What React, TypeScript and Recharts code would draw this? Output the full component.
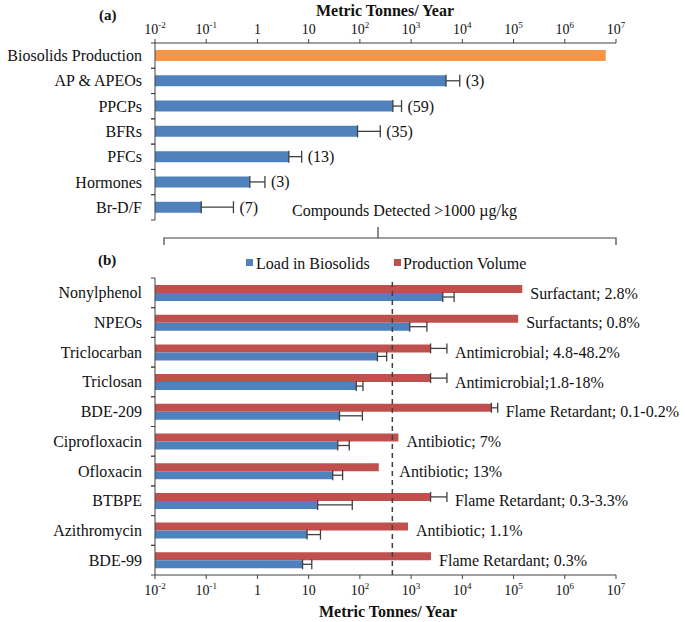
import React from 'react';
import { BarChart, Bar, XAxis, YAxis, ErrorBar, Cell, LabelList, ReferenceLine } from 'recharts';

// panel (a): compound classes
const groupNames = ['Biosolids Production', 'AP & APEOs', 'PPCPs', 'BFRs', 'PFCs', 'Hormones', 'Br-D/F'];
const groupLoads = [6300000, 4800, 440, 90, 4.1, 0.71, 0.08];
const groupUpper = [null, 8900, 650, 250, 7.3, 1.4, 0.34];
const groupCounts = ['', '(3)', '(59)', '(35)', '(13)', '(3)', '(7)'];

// panel (b): compounds detected >1000 ug/kg
const compoundNames = ['Nonylphenol', 'NPEOs', 'Triclocarban', 'Triclosan', 'BDE-209', 'Ciprofloxacin', 'Ofloxacin', 'BTBPE', 'Azithromycin', 'BDE-99'];
const loadValues = [4150, 940, 220, 85, 40, 37, 29.5, 15, 9.3, 7.6];
const loadUpper = [6900, 2030, 333, 115, 112, 62, 46, 71, 17, 11.5];
const productionValues = [148000, 123000, 2400, 2400, 37000, 565, 234, 2400, 870, 2450];
const productionUpper = [null, null, 5000, 5000, 49000, null, null, 5000, null, null];
const compoundUses = [
  'Surfactant; 2.8%',
  'Surfactants;  0.8%',
  'Antimicrobial; 4.8-48.2%',
  'Antimicrobial;1.8-18%',
  'Flame Retardant; 0.1-0.2%',
  'Antibiotic; 7%',
  'Antibiotic; 13%',
  'Flame Retardant; 0.3-3.3%',
  'Antibiotic; 1.1%',
  'Flame Retardant; 0.3%',
];

const logTicks = [0.01, 0.1, 1, 10, 100, 1000, 10000, 100000, 1000000, 10000000];
const detectionLine = 430;

const FONT = 'Liberation Serif, Tinos, DejaVu Serif, serif';
const BLUE = '#4F81BD';
const RED = '#C0504D';
const ORANGE = '#F79646';
const AXIS = '#404040';

const topData = groupNames.map((name, i) => ({
  name,
  value: groupLoads[i],
  err: groupUpper[i] == null ? null : [0, groupUpper[i]! - groupLoads[i]],
}));

const bottomData = compoundNames.map((name, i) => ({
  name,
  load: loadValues[i],
  loadErr: [0, loadUpper[i] - loadValues[i]],
  production: productionValues[i],
  productionErr: productionUpper[i] == null ? null : [0, productionUpper[i]! - productionValues[i]],
}));

const txt = { fontFamily: FONT, fill: '#111' };

function PowerTick(props: any) {
  const { x, y, payload, side } = props;
  const exp = Math.round(Math.log10(payload.value));
  const ty = side === 'top' ? y - 3 : y + 14;
  return (
    <text x={x} y={ty} textAnchor="middle" fontSize={14} style={txt}>
      {exp === 0 ? '1' : exp === 1 ? '10' : (
        <>
          10<tspan dy={-6} fontSize={9}>{exp}</tspan>
        </>
      )}
    </text>
  );
}

function makeCategoryTick(band: number) {
  return (props: any) => {
    const { x, y, payload } = props;
    return (
      <g>
        <line x1={x - 4} x2={x} y1={y - band / 2} y2={y - band / 2} stroke={AXIS} />
        <line x1={x - 4} x2={x} y1={y + band / 2} y2={y + band / 2} stroke={AXIS} />
        <text x={x - 13} y={y} textAnchor="end" dominantBaseline="central" fontSize={16} style={txt}>
          {payload.value}
        </text>
      </g>
    );
  };
}

function box(props: any) {
  const vb = props.viewBox ?? props;
  return { x: Number(vb.x), y: Number(vb.y), width: Number(vb.width), height: Number(vb.height) };
}

function CountLabel(props: any) {
  const i = groupNames.indexOf(props.value);
  if (i < 0 || !groupCounts[i]) return null;
  const { x, y, width, height } = box(props);
  const decade = width / (Math.log10(groupLoads[i]) + 2);
  const up = groupUpper[i];
  const end = up == null ? x + width : x + (Math.log10(up) + 2) * decade;
  return (
    <text x={end + 6} y={y + height / 2} dominantBaseline="central" fontSize={16} style={txt}>
      {groupCounts[i]}
    </text>
  );
}

function UseLabel(props: any) {
  const i = compoundNames.indexOf(props.value);
  if (i < 0) return null;
  const { x, y, width, height } = box(props);
  const decade = width / (Math.log10(productionValues[i]) + 2);
  const up = productionUpper[i];
  const end = up == null ? x + width : x + (Math.log10(up) + 2) * decade;
  const refX = x + (Math.log10(detectionLine) + 2) * decade;
  const tx = Math.max(end + 8, refX + 7);
  return (
    <text x={tx} y={y + height} dominantBaseline="central" fontSize={16} style={txt}>
      {compoundUses[i]}
    </text>
  );
}

export default function App() {
  const topPlotH = 177;
  const bottomPlotH = 297;
  return (
    <div style={{ position: 'absolute', left: 0, top: 0, width: 685, height: 622, background: '#fff', fontFamily: FONT }}>
      <div style={{ position: 'absolute', left: 0, top: 0 }}>
        <BarChart
          width={685}
          height={230}
          data={topData}
          layout="vertical"
          margin={{ top: 13, right: 69, bottom: 10, left: 0 }}
          barSize={11}
        >
          <XAxis
            type="number"
            orientation="top"
            scale="log"
            domain={[0.01, 10000000]}
            ticks={logTicks}
            interval={0}
            allowDataOverflow
            height={30}
            tickSize={4}
            tickMargin={2}
            stroke={AXIS}
            tick={(p: any) => <PowerTick {...p} side="top" />}
          />
          <YAxis
            type="category"
            dataKey="name"
            width={155}
            tickSize={0}
            tickMargin={0}
            tickLine={false}
            stroke={AXIS}
            tick={makeCategoryTick(topPlotH / groupNames.length)}
            interval={0}
          />
          <Bar dataKey="value" fill={BLUE} isAnimationActive={false}>
            {topData.map((d, i) => (
              <Cell key={d.name} fill={i === 0 ? ORANGE : BLUE} />
            ))}
            <ErrorBar dataKey="err" direction="x" width={6} stroke={AXIS} strokeWidth={1.3} />
            <LabelList dataKey="name" content={CountLabel} />
          </Bar>
        </BarChart>
      </div>

      <div style={{ position: 'absolute', left: 0, top: 250 }}>
        <BarChart
          width={685}
          height={372}
          data={bottomData}
          layout="vertical"
          margin={{ top: 28, right: 69, bottom: 17, left: 0 }}
          barSize={8}
          barGap={0}
        >
          <XAxis
            type="number"
            scale="log"
            domain={[0.01, 10000000]}
            ticks={logTicks}
            interval={0}
            allowDataOverflow
            height={30}
            tickSize={4}
            tickMargin={2}
            stroke={AXIS}
            tick={(p: any) => <PowerTick {...p} side="bottom" />}
          />
          <YAxis
            type="category"
            dataKey="name"
            width={155}
            tickSize={0}
            tickMargin={0}
            tickLine={false}
            stroke={AXIS}
            tick={makeCategoryTick(bottomPlotH / compoundNames.length)}
            interval={0}
          />
          <Bar dataKey="production" name="Production Volume" fill={RED} isAnimationActive={false}>
            <ErrorBar dataKey="productionErr" direction="x" width={5} stroke={AXIS} strokeWidth={1.3} />
            <LabelList dataKey="name" content={UseLabel} />
          </Bar>
          <Bar dataKey="load" name="Load in Biosolids" fill={BLUE} isAnimationActive={false}>
            <ErrorBar dataKey="loadErr" direction="x" width={5} stroke={AXIS} strokeWidth={1.3} />
          </Bar>
          <ReferenceLine x={detectionLine} stroke={AXIS} strokeWidth={1.5} strokeDasharray="5 4" />
        </BarChart>
      </div>

      <svg width={685} height={622} style={{ position: 'absolute', left: 0, top: 0, pointerEvents: 'none' }}>
        <text x={385} y={16} textAnchor="middle" fontSize={16} fontWeight="bold" style={txt}>
          Metric Tonnes/ Year
        </text>
        <text x={99} y={20} fontSize={15} fontWeight="bold" style={txt}>(a)</text>
        <text x={292} y={216} fontSize={16} style={txt}>Compounds Detected  &gt;1000 µg/kg</text>
        <path d="M164 245 V238 H616 V245 M378 238 V227" fill="none" stroke={AXIS} strokeWidth={1.2} />
        <text x={98} y={265} fontSize={15} fontWeight="bold" style={txt}>(b)</text>
        <rect x={246} y={259} width={7} height={7} fill={BLUE} />
        <text x={256} y={263} dominantBaseline="central" fontSize={16} style={txt}>Load in Biosolids</text>
        <rect x={394} y={259} width={7} height={7} fill={RED} />
        <text x={403} y={263} dominantBaseline="central" fontSize={16} style={txt}>Production Volume</text>
        <text x={388} y={617} textAnchor="middle" fontSize={16} fontWeight="bold" style={txt}>
          Metric Tonnes/ Year
        </text>
      </svg>
    </div>
  );
}
